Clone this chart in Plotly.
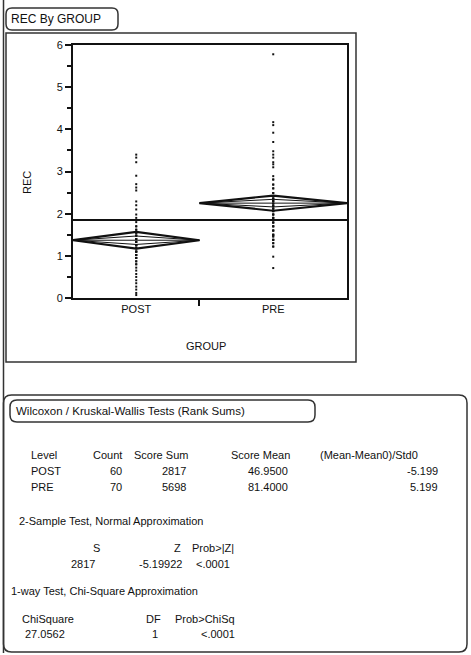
import plotly.graph_objects as go

# ---------------- data ----------------
groups = ["POST", "PRE"]
group_n = [60, 70]
post_rec = [3.40, 3.33, 3.22, 2.90, 2.70, 2.62, 2.55, 2.29, 2.20, 2.10, 1.98, 1.90,
            1.80, 1.70, 1.62, 1.55, 1.48, 1.40, 1.33, 1.25, 1.18, 1.10, 1.02, 0.95,
            0.87, 0.80, 0.72, 0.65, 0.57, 0.50, 0.42, 0.35, 0.27, 0.20, 0.12, 0.07,
            1.70, 1.62, 1.55, 1.48, 1.40, 1.40, 1.33, 1.33, 1.25, 1.25, 1.18, 1.18,
            1.10, 1.10, 1.02, 1.02, 0.95, 0.95, 0.87, 0.80, 1.48, 1.55, 1.25, 1.10]
pre_rec = [5.78, 4.17, 4.10, 3.92, 3.70, 3.48, 3.40, 3.33, 3.22, 3.17, 3.10, 2.89,
           2.81, 2.69, 2.60, 2.49,
           1.98, 1.90, 1.79, 1.70, 1.60, 1.50, 1.46, 1.38, 1.30, 1.22, 0.98, 0.71,
           2.42, 2.36, 2.30, 2.24, 2.18, 2.12, 2.06, 2.42, 2.36, 2.30, 2.24, 2.18,
           2.12, 2.06, 2.42, 2.36, 2.30, 2.24, 2.18, 2.12, 2.06,
           1.98, 1.90, 1.79, 1.70, 1.60, 1.50, 1.46, 1.38, 2.49, 2.60, 2.69, 2.81,
           1.98, 1.90, 1.79, 1.70, 1.60, 1.30, 1.22, 1.50, 1.38]
group_means = [1.37, 2.25]
ci_half = [0.20, 0.18]
grand_mean = 1.85
y_ticks = [0, 1, 2, 3, 4, 5, 6]

# Wilcoxon table
tbl_header = ["Level", "Count", "Score Sum", "Score Mean", "(Mean-Mean0)/Std0"]
tbl_level = ["POST", "PRE"]
tbl_count = ["60", "70"]
tbl_score_sum = ["2817", "5698"]
tbl_score_mean = ["46.9500", "81.4000"]
tbl_std = ["-5.199", "5.199"]
two_sample_header = ["S", "Z", "Prob>|Z|"]
two_sample_vals = ["2817", "-5.19922", "<.0001"]
chi_header = ["ChiSquare", "DF", "Prob>ChiSq"]
chi_vals = ["27.0562", "1", "<.0001"]

# ---------------- layout geometry (page pixels) ----------------
W, H = 471, 655
L, R, T, B = 73, 347, 45, 298  # plot area in page pixels
PW, PH = R - L, B - T


def px(x):
    return (x - L) / PW


def py(y):
    return (B - y) / PH


FONT = "Liberation Sans, Arial, sans-serif"
INK = "#111111"

fig = go.Figure()

edges = [0]
for n in group_n:
    edges.append(edges[-1] + n)
centers = [(edges[i] + edges[i + 1]) / 2 for i in range(len(group_n))]

for i, vals in enumerate([post_rec, pre_rec]):
    fig.add_trace(go.Scatter(x=[centers[i]] * len(vals), y=vals, mode="markers",
                             marker=dict(size=2, color=INK, symbol="square"),
                             hoverinfo="y", showlegend=False))
    lo, hi, c = edges[i], edges[i + 1], centers[i]
    m, h = group_means[i], ci_half[i]
    fig.add_trace(go.Scatter(x=[lo, c, hi, c, lo], y=[m, m + h, m, m - h, m], mode="lines",
                             line=dict(color=INK, width=2.2), hoverinfo="skip", showlegend=False))
    hi2 = h * 0.5
    fig.add_trace(go.Scatter(x=[lo, c, hi, c, lo], y=[m, m + hi2, m, m - hi2, m], mode="lines",
                             line=dict(color=INK, width=1), hoverinfo="skip", showlegend=False))
    fig.add_trace(go.Scatter(x=[lo, hi], y=[m, m], mode="lines",
                             line=dict(color=INK, width=1), hoverinfo="skip", showlegend=False))

fig.add_trace(go.Scatter(x=[edges[0], edges[-1]], y=[grand_mean, grand_mean], mode="lines",
                         line=dict(color=INK, width=2.2), hoverinfo="skip", showlegend=False))

fig.update_layout(
    width=W, height=H,
    margin=dict(l=L, r=W - R, t=T, b=H - B),
    paper_bgcolor="white", plot_bgcolor="white",
    font=dict(family=FONT, size=11, color=INK),
    xaxis=dict(range=[edges[0], edges[-1]], showgrid=False, zeroline=False,
               showline=True, linecolor=INK, linewidth=2, mirror=True,
               tickvals=centers, ticktext=groups, ticks="",
               tickfont=dict(size=11, color=INK),
               minor=dict(tickvals=[edges[1]], ticks="outside", ticklen=6,
                          tickwidth=2, tickcolor=INK)),
    yaxis=dict(range=[0, 6], showgrid=False, zeroline=False,
               showline=True, linecolor=INK, linewidth=2, mirror=True,
               tickvals=y_ticks, ticks="outside", ticklen=6, tickwidth=2, tickcolor=INK,
               tickfont=dict(size=11, color=INK),
               minor=dict(dtick=0.5, ticks="outside", ticklen=4, tickwidth=1.5, tickcolor=INK)),
)


def rrect(x0, y0, x1, y1, r):
    return (f"M {px(x0 + r)},{py(y0)} L {px(x1 - r)},{py(y0)} "
            f"Q {px(x1)},{py(y0)} {px(x1)},{py(y0 + r)} "
            f"L {px(x1)},{py(y1 - r)} Q {px(x1)},{py(y1)} {px(x1 - r)},{py(y1)} "
            f"L {px(x0 + r)},{py(y1)} Q {px(x0)},{py(y1)} {px(x0)},{py(y1 - r)} "
            f"L {px(x0)},{py(y0 + r)} Q {px(x0)},{py(y0)} {px(x0 + r)},{py(y0)} Z")


shapes = []
line_style = dict(color="#333333", width=1.5)
shapes.append(dict(type="line", xref="paper", yref="paper", x0=px(3.5), x1=px(3.5),
                   y0=py(0), y1=py(653), line=line_style))
shapes.append(dict(type="path", xref="paper", yref="paper", path=rrect(6, 8, 118, 30, 6),
                   line=line_style))
shapes.append(dict(type="rect", xref="paper", yref="paper", x0=px(6), x1=px(356),
                   y0=py(33), y1=py(362), line=line_style))
shapes.append(dict(type="path", xref="paper", yref="paper", path=rrect(3.5, 395, 467, 652, 8),
                   line=line_style))
shapes.append(dict(type="path", xref="paper", yref="paper", path=rrect(10, 400, 315, 422, 7),
                   line=line_style))
fig.update_layout(shapes=shapes)

annotations = []


def txt(s, x, y, anchor="left", size=11):
    annotations.append(dict(text=s, x=px(x), y=py(y), xref="paper", yref="paper",
                            xanchor=anchor, yanchor="middle", showarrow=False,
                            font=dict(family=FONT, size=size, color=INK)))


txt("REC By GROUP", 9, 19, size=12)
annotations.append(dict(text="REC", x=px(27), y=py(183), xref="paper", yref="paper",
                        textangle=-90, showarrow=False, xanchor="center", yanchor="middle",
                        font=dict(family=FONT, size=11, color=INK)))
txt("GROUP", 206, 346, anchor="center")

txt("Wilcoxon / Kruskal-Wallis Tests (Rank Sums)", 14, 411, size=11.5)

hx = [(29, "left"), (124, "right"), (190, "right"), (292, "right"), (318, "left")]
for (x, a), s in zip(hx, tbl_header):
    txt(s, x, 455, a)
for r, yy in enumerate([471, 487]):
    txt(tbl_level[r], 29, yy)
    txt(tbl_count[r], 124, yy, "right")
    txt(tbl_score_sum[r], 188, yy, "right")
    txt(tbl_score_mean[r], 290, yy, "right")
    txt(tbl_std[r], 440, yy, "right")

txt("2-Sample Test, Normal Approximation", 17, 521)
txt(two_sample_header[0], 96, 548, "center")
txt(two_sample_header[1], 183, 548, "right")
txt(two_sample_header[2], 190, 548, "left")
txt(two_sample_vals[0], 97, 564, "right")
txt(two_sample_vals[1], 184, 564, "right")
txt(two_sample_vals[2], 232, 564, "right")

txt("1-way Test, Chi-Square Approximation", 9, 591)
txt(chi_header[0], 20, 619, "left")
txt(chi_header[1], 163, 619, "right")
txt(chi_header[2], 237, 619, "right")
txt(chi_vals[0], 67, 634, "right")
txt(chi_vals[1], 160, 634, "right")
txt(chi_vals[2], 237, 634, "right")

fig.update_layout(annotations=annotations)

fig.write_html("out.html", config={"displayModeBar": False},
               post_script="document.body.style.margin='0';")
